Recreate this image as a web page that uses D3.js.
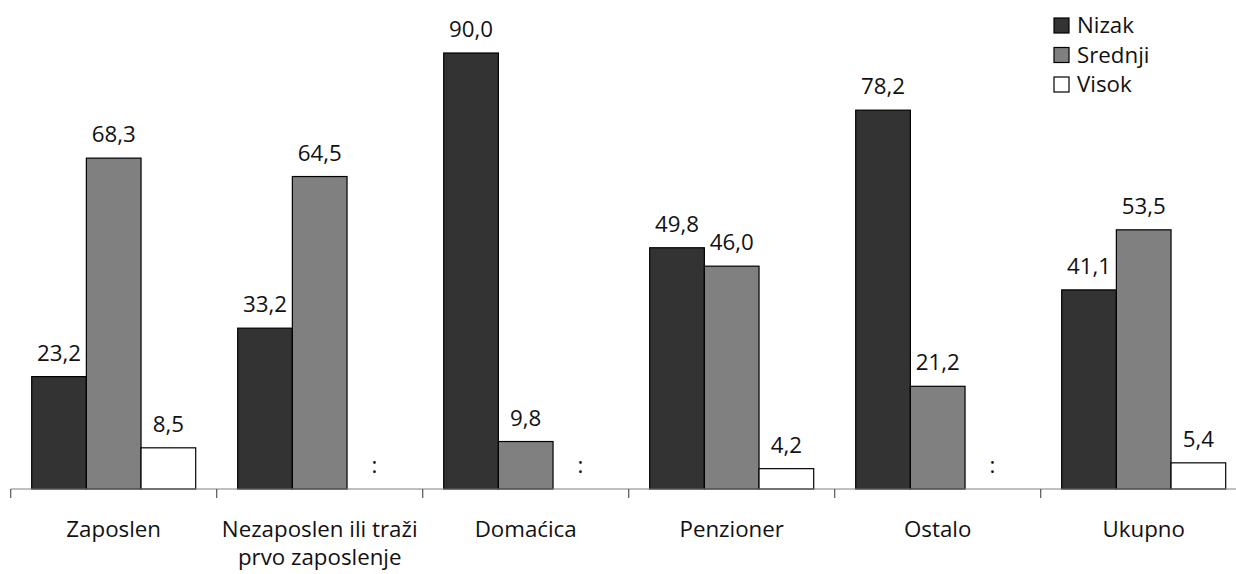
<!DOCTYPE html>
<html>
<head>
<meta charset="utf-8">
<script src="https://cdn.jsdelivr.net/npm/d3@7"></script>
<style>
  body { margin: 0; background: #fff; }
  #chart { width: 1236px; height: 574px; }
  text { font-family: "Open Sans", sans-serif; font-size: 22.3px; fill: #111; }
</style>
</head>
<body>
<div id="chart"></div>
<script>
var categories = ["Zaposlen", "Nezaposlen ili traži|prvo zaposlenje", "Domaćica", "Penzioner", "Ostalo", "Ukupno"];
var series = ["Nizak", "Srednji", "Visok"];
var nizak = [23.2, 33.2, 90.0, 49.8, 78.2, 41.1];
var srednji = [68.3, 64.5, 9.8, 46.0, 21.2, 53.5];
var visok = [8.5, null, null, 4.2, null, 5.4];

var values = {Nizak: nizak, Srednji: srednji, Visok: visok};
var colors = {Nizak: "#333333", Srednji: "#808080", Visok: "#ffffff"};

var width = 1236, height = 574,
    axisY = 489;

var svg = d3.select("#chart").append("svg")
    .attr("width", width)
    .attr("height", height);

var x0 = d3.scaleBand().domain(categories).range([10.7, 10.7 + 6 * 206]).padding(0);
var x1 = d3.scaleBand().domain(series).range([21, 185]).padding(0);
var y = d3.scaleLinear().domain([0, 90]).range([axisY, 53]);

var fmt = function (v) { return d3.format(".1f")(v).replace(".", ","); };

var data = [];
categories.forEach(function (c, i) {
    series.forEach(function (s) {
        data.push({cat: c, ser: s, value: values[s][i]});
    });
});

var groups = svg.selectAll(".group")
    .data(categories)
    .enter().append("g")
    .attr("class", "group")
    .attr("transform", function (d) { return "translate(" + x0(d) + ",0)"; });

groups.selectAll("rect")
    .data(function (c) { return data.filter(function (d) { return d.cat == c && d.value != null; }); })
    .enter().append("rect")
    .attr("x", function (d) { return x1(d.ser); })
    .attr("y", function (d) { return y(d.value); })
    .attr("width", x1.bandwidth())
    .attr("height", function (d) { return axisY - y(d.value); })
    .attr("fill", function (d) { return colors[d.ser]; })
    .attr("stroke", "#000")
    .attr("stroke-width", 1.2);

// value labels, ":" where no data
groups.selectAll(".val")
    .data(function (c) { return data.filter(function (d) { return d.cat == c; }); })
    .enter().append("text")
    .attr("class", "val")
    .attr("text-anchor", "middle")
    .attr("x", function (d) { return x1(d.ser) + x1.bandwidth() / 2; })
    .attr("y", function (d) { return d.value == null ? axisY - 16 : y(d.value) - 16; })
    .text(function (d) { return d.value == null ? ":" : fmt(d.value); });

// axis line and ticks at band edges
svg.append("line")
    .attr("x1", x0.range()[0]).attr("x2", width)
    .attr("y1", axisY).attr("y2", axisY)
    .attr("stroke", "#808080").attr("stroke-width", 1.2);

svg.selectAll(".tick")
    .data(categories)
    .enter().append("line")
    .attr("x1", function (d) { return x0(d); })
    .attr("x2", function (d) { return x0(d); })
    .attr("y1", axisY).attr("y2", axisY + 9)
    .attr("stroke", "#555").attr("stroke-width", 1.2);

// category labels
svg.selectAll(".cat")
    .data(categories)
    .enter().append("text")
    .attr("class", "cat")
    .attr("text-anchor", "middle")
    .attr("x", function (d) { return x0(d) + x0.bandwidth() / 2; })
    .attr("y", 537)
    .each(function (d) {
        var lines = d.split("|");
        var t = d3.select(this);
        lines.forEach(function (l, i) {
            t.append("tspan")
                .attr("x", x0(d) + x0.bandwidth() / 2)
                .attr("dy", i == 0 ? 0 : 28)
                .text(l);
        });
    });

// legend
var legend = svg.append("g").attr("transform", "translate(1054,18)");
series.forEach(function (s, i) {
    var row = legend.append("g").attr("transform", "translate(0," + (i * 29.5) + ")");
    row.append("rect")
        .attr("width", 15).attr("height", 15)
        .attr("fill", colors[s])
        .attr("stroke", "#000").attr("stroke-width", 1.2);
    row.append("text")
        .attr("x", 23).attr("y", 15)
        .text(s);
});
</script>
</body>
</html>
